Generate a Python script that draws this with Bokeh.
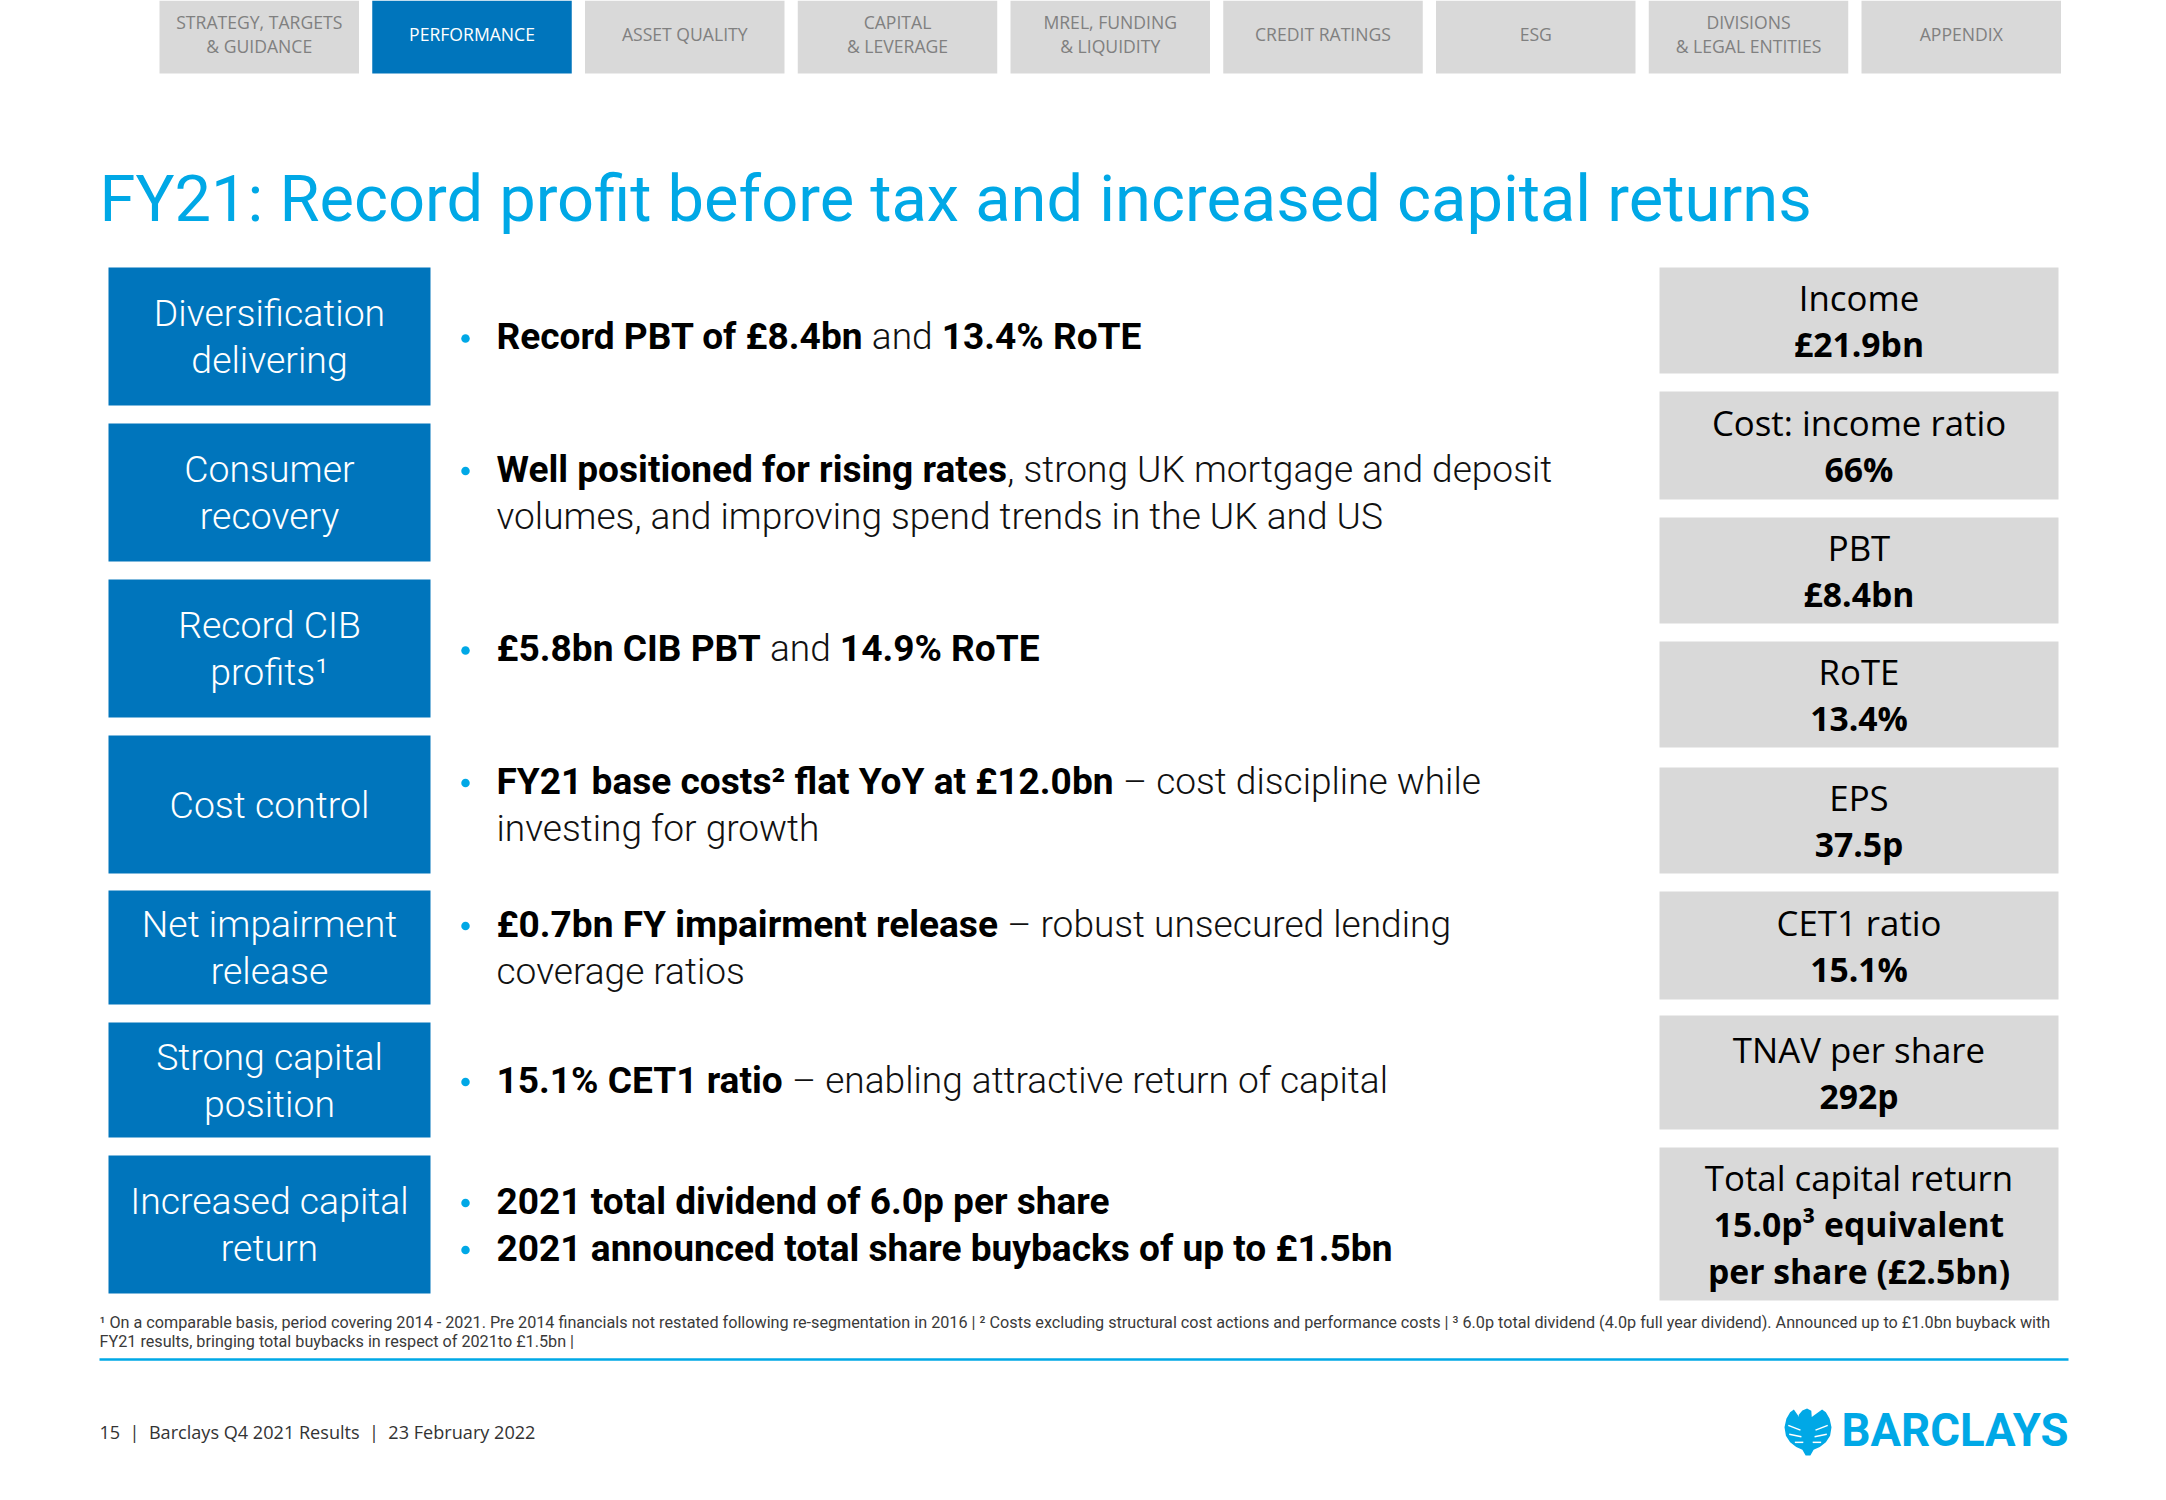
import os
import glob
import subprocess

from bokeh.plotting import figure
from bokeh.models import Range1d
from bokeh.core.properties import value
from bokeh.embed import file_html
from bokeh.resources import INLINE

# ------------------------------------------------------------------ data
nav_tabs = [
    ["STRATEGY, TARGETS", "& GUIDANCE"],
    ["PERFORMANCE"],
    ["ASSET QUALITY"],
    ["CAPITAL", "& LEVERAGE"],
    ["MREL, FUNDING", "& LIQUIDITY"],
    ["CREDIT RATINGS"],
    ["ESG"],
    ["DIVISIONS", "& LEGAL ENTITIES"],
    ["APPENDIX"],
]
active_tab = 1

title_text = "FY21: Record profit before tax and increased capital returns"

theme_labels = [
    ["Diversification", "delivering"],
    ["Consumer", "recovery"],
    ["Record CIB", "profits\u00b9"],
    ["Cost control"],
    ["Net impairment", "release"],
    ["Strong capital", "position"],
    ["Increased capital", "return"],
]

# each row: list of lines; each line: (has_bullet, [(segment, bold), ...])
theme_points = [
    [(True, [("Record PBT of \u00a38.4bn", True), (" and ", False), ("13.4% RoTE", True)])],
    [(True, [("Well positioned for rising rates", True), (", strong UK mortgage and deposit", False)]),
     (False, [("volumes, and improving spend trends in the UK and US", False)])],
    [(True, [("\u00a35.8bn CIB PBT", True), (" and ", False), ("14.9% RoTE", True)])],
    [(True, [("FY21 base costs\u00b2 flat YoY at \u00a312.0bn", True), (" \u2013 cost discipline while", False)]),
     (False, [("investing for growth", False)])],
    [(True, [("\u00a30.7bn FY impairment release", True), (" \u2013 robust unsecured lending", False)]),
     (False, [("coverage ratios", False)])],
    [(True, [("15.1% CET1 ratio", True), (" \u2013 enabling attractive return of capital", False)])],
    [(True, [("2021 total dividend of 6.0p per share", True)]),
     (True, [("2021 announced total share buybacks of up to \u00a31.5bn", True)])],
]

kpi_labels = ["Income", "Cost: income ratio", "PBT", "RoTE", "EPS",
              "CET1 ratio", "TNAV per share", "Total capital return"]
kpi_values = [["\u00a321.9bn"], ["66%"], ["\u00a38.4bn"], ["13.4%"], ["37.5p"],
              ["15.1%"], ["292p"], ["15.0p\u00b3 equivalent", "per share (\u00a32.5bn)"]]

footnotes = [
    "\u00b9 On a comparable basis, period covering 2014 - 2021. Pre 2014 financials not restated "
    "following re-segmentation in 2016 | \u00b2 Costs excluding structural cost actions and performance "
    "costs | \u00b3 6.0p total dividend (4.0p full year dividend). Announced up to \u00a31.0bn buyback with",
    "FY21 results, bringing total buybacks in respect of 2021to \u00a31.5bn |",
]
footer_text = "15 \u00a0| \u00a0Barclays Q4 2021 Results \u00a0| \u00a023 February 2022"
brand_text = "BARCLAYS"

# ------------------------------------------------------------------ layout / style
W, H = 2150, 1484
CYAN = "#00A8E6"
BLUE = "#0075BC"
GREY = "#D9D9D9"
TAB_TEXT = "#808080"

TAB_LEFT0, TAB_PITCH, TAB_W, TAB_BOTTOM = 159, 212.75, 199.5, 73
BOX_X0, BOX_X1 = 108, 430
BOX_TOPS = [267, 423, 579, 735, 890, 1022, 1155]
BOX_BOTS = [405, 561, 717, 873, 1004, 1137, 1293]
BULLET_X, TEXT_X = 465, 496
KPI_X0, KPI_X1 = 1659, 2058
KPI_TOPS = [267, 391, 517, 641, 767, 891, 1015, 1147]
KPI_BOTS = [373, 499, 623, 747, 873, 999, 1129, 1300]
LINE_STEP = 47
KPI_STEP = 47

# ------------------------------------------------------------------ font measuring
FONT_DIRS = ["/usr/share/fonts", "/usr/local/share/fonts", os.path.expanduser("~/.fonts"),
             os.path.expanduser("~/.local/share/fonts")]
FILE_NAMES = {
    ("Liberation Sans Narrow", False): ["LiberationSansNarrow-Regular.ttf"],
    ("Liberation Sans Narrow", True): ["LiberationSansNarrow-Bold.ttf"],
    ("Open Sans", False): ["OpenSans-Regular.ttf"],
    ("Open Sans", True): ["OpenSans-Bold.ttf"],
    ("Roboto", False): ["Roboto-Regular.ttf"],
    ("Roboto", True): ["Roboto-Bold.ttf"],
    ("Roboto Light", False): ["Roboto-Light.ttf"],
}


def family_listed(name):
    try:
        out = subprocess.run(["fc-list", ":", "family"], capture_output=True, text=True, timeout=10).stdout
        for line in out.splitlines():
            for fam in line.split(","):
                if fam.strip().lower() == name.lower():
                    return True
    except Exception:
        pass
    return False


def find_font_file(family, bold):
    style = "Bold" if bold else "Regular"
    try:
        out = subprocess.run(["fc-match", "-f", "%{family}\t%{file}", f"{family}:style={style}"],
                             capture_output=True, text=True, timeout=10).stdout
        fam, path = out.split("\t", 1)
        if family.lower() in fam.lower() and os.path.exists(path):
            return path
    except Exception:
        pass
    for d in FONT_DIRS:
        for name in FILE_NAMES.get((family, bold), []):
            hits = glob.glob(os.path.join(d, "**", name), recursive=True)
            if hits:
                return hits[0]
    return None


_fonts = {}


def font_obj(family, bold):
    key = (family, bold)
    if key not in _fonts:
        f = None
        path = find_font_file(family, bold)
        if path:
            try:
                from PIL import ImageFont
                f = ImageFont.truetype(path, 100)
            except Exception:
                f = None
        if f is not None:
            try:
                axes = f.get_variation_axes()
                vals = []
                for ax in axes:
                    nm = ax.get("name", b"")
                    if isinstance(nm, bytes):
                        nm = nm.decode("utf-8", "ignore")
                    nm = str(nm).lower()
                    if "weight" in nm or "wght" in nm:
                        vals.append(700 if bold else (300 if "light" in family.lower() else 400))
                    elif "width" in nm or "wdth" in nm:
                        vals.append(100)
                    else:
                        vals.append(ax.get("default", ax.get("minimum", 0)))
                if vals:
                    f.set_variation_by_axes(vals)
            except Exception:
                pass
        _fonts[key] = f
    return _fonts[key]


def text_width(s, family, bold, size):
    f = font_obj(family, bold)
    if f is None:
        k = 0.44 if "Narrow" in family else 0.53
        return len(s) * size * (k + (0.03 if bold else 0))
    return f.getlength(s) * size / 100.0


def fit_size(samples, default):
    sizes = []
    for s, family, bold, w in samples:
        w100 = text_width(s, family, bold, 100)
        if w100 > 0:
            sizes.append(100.0 * w / w100)
    if not sizes:
        return default
    return round(sum(sizes) / len(sizes), 1)


MAIN = "Liberation Sans Narrow" if font_obj("Liberation Sans Narrow", False) is not None else "Roboto"
LIGHT = "Roboto Light" if (MAIN == "Roboto" and family_listed("Roboto Light")
                           and font_obj("Roboto Light", False) is not None) else MAIN
SIDE = "Open Sans"

SZ_TITLE = fit_size([(title_text, MAIN, False, 1711)], 70)
SZ_BOX = fit_size([("Diversification", LIGHT, False, 232), ("Cost control", LIGHT, False, 199),
                   ("Increased capital", LIGHT, False, 276), ("Net impairment", LIGHT, False, 257),
                   ("Strong capital", LIGHT, False, 228)], 42)
SZ_BUL = fit_size([("volumes, and improving spend trends in the UK and US", LIGHT, False, 909),
                   ("2021 announced total share buybacks of up to \u00a31.5bn", MAIN, True, 891),
                   ("\u2013 enabling attractive return of capital", LIGHT, False, 605),
                   ("2021 total dividend of 6.0p per share", MAIN, True, 608),
                   ("Record PBT of \u00a38.4bn and 13.4% RoTE", MAIN, True, 631)], 36)
SZ_KPI_L = fit_size([("Cost: income ratio", SIDE, False, 297), ("TNAV per share", SIDE, False, 251),
                     ("Total capital return", SIDE, False, 308)], 35)
SZ_KPI_V = fit_size([("per share (\u00a32.5bn)", SIDE, True, 307), ("15.0p\u00b3 equivalent", SIDE, True, 285)], 35)
SZ_TAB = fit_size([("STRATEGY, TARGETS", SIDE, False, 171), ("CREDIT RATINGS", SIDE, False, 135),
                   ("PERFORMANCE", SIDE, False, 123)], 16)
SZ_NOTE = fit_size([(footnotes[0], MAIN, False, 1950), (footnotes[1], MAIN, False, 474)], 15)
SZ_FOOT = fit_size([(footer_text, SIDE, False, 437)], 18)
SZ_BRAND = fit_size([(brand_text, MAIN, True, 227)], 50)

# ------------------------------------------------------------------ figure
p = figure(width=W, height=H, x_range=Range1d(0, W), y_range=Range1d(H, 0),
           x_axis_type=None, y_axis_type=None, output_backend="svg", toolbar_location=None,
           min_border=0, outline_line_color=None, title=None,
           background_fill_color="white", border_fill_color="white")
p.grid.visible = False


def css_family(family):
    return f"{family}, {MAIN}" if family != MAIN else family


def draw_text(x, y_center, s, family, size, bold=False, color="#000000", align="left"):
    # y_center = visual centre of the capitals
    p.text(x=[x], y=[y_center], text=[s], text_font=value(css_family(family)),
           text_font_size=value(f"{size:.1f}px"), text_font_style="bold" if bold else "normal",
           text_color=color, text_align=align, text_baseline="alphabetic")


def line_centers(center, n, step):
    return [center + (i - (n - 1) / 2.0) * step for i in range(n)]


# navigation tabs
for i, lines in enumerate(nav_tabs):
    left = TAB_LEFT0 + i * TAB_PITCH
    active = (i == active_tab)
    p.quad(left=[left], right=[left + TAB_W], top=[0], bottom=[TAB_BOTTOM],
           fill_color=BLUE if active else GREY, line_color=None)
    for y, s in zip(line_centers(33, len(lines), 24), lines):
        draw_text(left + TAB_W / 2, y, s, SIDE, SZ_TAB, color="#FFFFFF" if active else TAB_TEXT,
                  align="center")

# title
draw_text(99, 198, title_text, MAIN, SZ_TITLE, color=CYAN)

# theme boxes + bullet text
for r, (labels, rows) in enumerate(zip(theme_labels, theme_points)):
    top, bot = BOX_TOPS[r], BOX_BOTS[r]
    c = (top + bot) / 2.0
    p.quad(left=[BOX_X0], right=[BOX_X1], top=[top], bottom=[bot], fill_color=BLUE, line_color=None)
    for y, s in zip(line_centers(c, len(labels), LINE_STEP), labels):
        draw_text((BOX_X0 + BOX_X1) / 2, y, s, LIGHT, SZ_BOX, color="#FFFFFF", align="center")
    for y, (has_bullet, segs) in zip(line_centers(c, len(rows), LINE_STEP), rows):
        if has_bullet:
            p.scatter(x=[BULLET_X], y=[y + 2], size=8.5, marker="circle", fill_color=CYAN, line_color=None)
        xc = TEXT_X
        for seg, bold in segs:
            fam = MAIN if bold else LIGHT
            stripped = seg.strip()
            lead = seg[:len(seg) - len(seg.lstrip())]
            xdraw = xc + (text_width(lead, fam, bold, SZ_BUL) if lead else 0)
            draw_text(xdraw, y, stripped, fam, SZ_BUL, bold=bold,
                      color="#000000" if bold else "#111111")
            xc += text_width(seg, fam, bold, SZ_BUL)

# KPI boxes
for k, (lab, vals) in enumerate(zip(kpi_labels, kpi_values)):
    top, bot = KPI_TOPS[k], KPI_BOTS[k]
    c = (top + bot) / 2.0
    p.quad(left=[KPI_X0], right=[KPI_X1], top=[top], bottom=[bot], fill_color=GREY, line_color=None)
    lines = [(lab, False)] + [(v, True) for v in vals]
    for y, (s, bold) in zip(line_centers(c, len(lines), KPI_STEP), lines):
        draw_text((KPI_X0 + KPI_X1) / 2, y, s, SIDE, SZ_KPI_V if bold else SZ_KPI_L, bold=bold,
                  color="#000000", align="center")

# footnotes, rule, footer
for y, s in zip([1322, 1341], footnotes):
    draw_text(99, y, s, MAIN, SZ_NOTE, color="#3A3A3A")
p.segment(x0=[99], y0=[1359], x1=[2068], y1=[1359], line_color=CYAN, line_width=2.5)
draw_text(99, 1431, footer_text, SIDE, SZ_FOOT, color="#333333")

# logo: stylised eagle + wordmark
EAGLE = [(0.30, 0.14), (0.38, 0.04), (0.48, 0.0), (0.57, 0.05), (0.58, 0.18), (0.66, 0.12),
         (0.80, 0.02), (0.88, 0.08), (0.96, 0.22), (1.0, 0.40), (0.97, 0.58), (0.88, 0.72),
         (0.75, 0.82), (0.62, 0.88), (0.55, 1.0), (0.45, 1.0), (0.38, 0.88), (0.25, 0.82),
         (0.12, 0.72), (0.03, 0.58), (0.0, 0.40), (0.04, 0.22), (0.12, 0.08), (0.20, 0.02),
         (0.31, 0.18)]
EX0, EY0, ES = 1784, 1408, 47
p.patch([EX0 + ES * a for a, b in EAGLE], [EY0 + ES * b for a, b in EAGLE], fill_color=CYAN, line_color=None)
FEATHERS = [((0.08, 0.36), (0.34, 0.46)), ((0.10, 0.55), (0.36, 0.60)), ((0.22, 0.72), (0.40, 0.72)),
            ((0.92, 0.36), (0.66, 0.46)), ((0.90, 0.55), (0.64, 0.60)), ((0.78, 0.72), (0.60, 0.72))]
p.segment(x0=[EX0 + ES * a[0] for a, b in FEATHERS], y0=[EY0 + ES * a[1] for a, b in FEATHERS],
          x1=[EX0 + ES * b[0] for a, b in FEATHERS], y1=[EY0 + ES * b[1] for a, b in FEATHERS],
          line_color="white", line_width=1.5)
draw_text(1841, 1430, brand_text, MAIN, SZ_BRAND, bold=True, color=CYAN)

open("out.html", "w").write(file_html(p, INLINE))
